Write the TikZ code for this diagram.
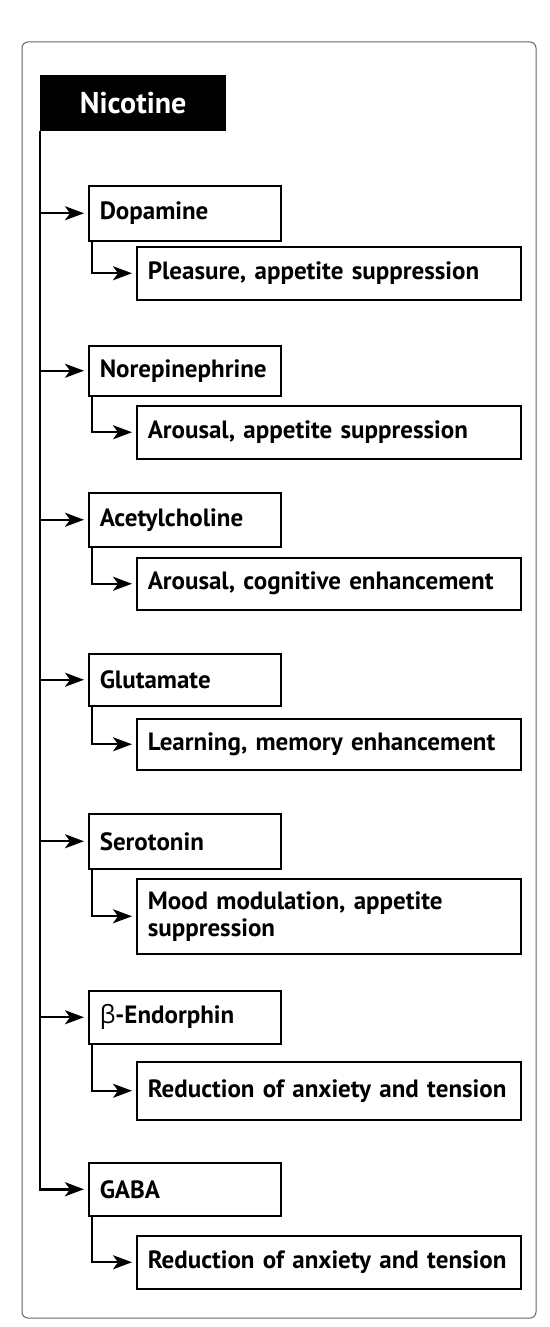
\documentclass[tikz,border=0pt]{standalone}
\usepackage{fontspec}
\setmainfont{PT Sans}
\newfontfamily\grk{Open Sans}
\usetikzlibrary{arrows.meta}
\begin{document}
\begin{tikzpicture}[x=1pt,y=-1pt,
  lbl/.style={font=\fontsize{25}{27}\selectfont\bfseries},
  box/.style={lbl, draw=black, line width=1.5pt, anchor=north west, inner xsep=11pt, inner ysep=2pt, align=left},
  tr/.style={box, text width=170pt},
  ef/.style={box, text width=362pt},
  hdr/.style={fill=black, text=white, anchor=north west, font=\fontsize{30}{32}\selectfont\bfseries, minimum width=186pt, minimum height=56pt, inner sep=0pt},
  arr/.style={-{Stealth[length=19pt,width=14pt,inset=5pt]}, line width=2.2pt, shorten >=4pt},
  trunkarr/.style={arr, line width=2.8pt},
  frame/.style={draw=black!60, line width=1pt, rounded corners=6pt}
]
\useasboundingbox (0,0) rectangle (549,1327);
\coordinate (fr1) at (22,42);
\coordinate (fr2) at (536,1318);
\draw[frame] (fr1) rectangle (fr2);

\node[hdr] (N) at (40,75) {Nicotine};

\node[tr, minimum height=55pt] (T1) at (88,185) {Dopamine};
\node[ef, minimum height=53pt] (E1) at (136,246) {Pleasure, appetite suppression};
\node[tr, minimum height=50pt] (T2) at (88,345) {Norepinephrine};
\node[ef, minimum height=53pt] (E2) at (136,405) {Arousal, appetite suppression};
\node[tr, minimum height=54pt] (T3) at (88,492) {Acetylcholine};
\node[ef, minimum height=52pt] (E3) at (136,557) {Arousal, cognitive enhancement};
\node[tr, minimum height=52pt] (T4) at (88,653) {Glutamate};
\node[ef, minimum height=51pt] (E4) at (136,718) {Learning, memory enhancement};
\node[tr, minimum height=55pt] (T5) at (88,813) {Serotonin};
\node[ef, minimum height=75pt] (E5) at (136,878) {Mood modulation, appetite\\suppression};
\node[tr, minimum height=53pt] (T6) at (88,990) {{\grk\mdseries β}-Endorphin};
\node[ef, minimum height=58pt] (E6) at (136,1061) {Reduction of anxiety and tension};
\node[tr, minimum height=53pt] (T7) at (88,1162) {GABA};
\node[ef, minimum height=53pt] (E7) at (136,1235) {Reduction of anxiety and tension};

% trunk ending in the last branch
\draw[trunkarr] (N.south west) |- (T7.west);
% branches from the trunk
\foreach \t in {T1,T2,T3,T4,T5,T6}
  \draw[arr] (N.south west |- \t.west) -- (\t.west);
% transmitter -> effect
\foreach \t/\e in {T1/E1,T2/E2,T3/E3,T4/E4,T5/E5,T6/E6,T7/E7}
  \draw[arr] ([xshift=4pt]\t.south west) |- (\e.west);
\end{tikzpicture}
\end{document}
